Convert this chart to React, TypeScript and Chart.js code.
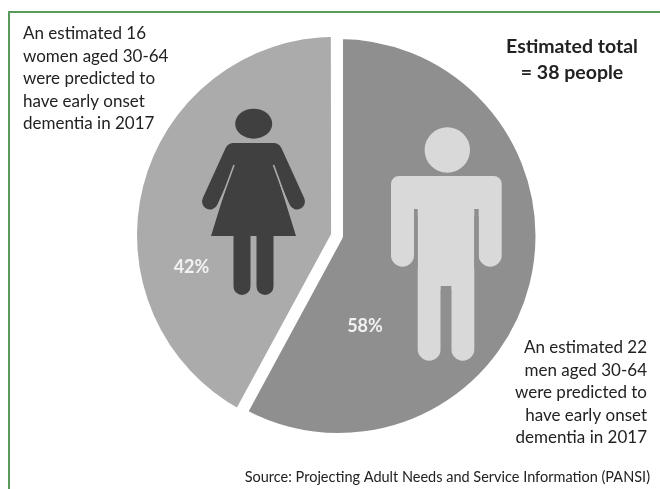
import React, { useEffect, useRef } from "react";
import { Chart, registerables } from "chart.js";

Chart.register(...registerables);

const groups = ["Men", "Women"];
const people = [22, 16];
const sliceColors = ["#8f8f8f", "#ababab"];
const sliceOffsets = [0, 12];
const womenNote = [
  "An estimated 16",
  "women aged 30-64",
  "were predicted to",
  "have early onset",
  "dementia in 2017",
];
const menNote = [
  "An estimated 22",
  "men aged 30-64",
  "were predicted to",
  "have early onset",
  "dementia in 2017",
];
const totalNote = ["Estimated total", "= 38 people"];
const sourceNote = "Source: Projecting Adult Needs and Service Information (PANSI)";

const FONT = "Lato, 'Open Sans', sans-serif";
const INK = "#222222";

function drawWoman(ctx: CanvasRenderingContext2D) {
  ctx.fillStyle = "#404040";
  ctx.strokeStyle = "#404040";
  ctx.beginPath();
  ctx.ellipse(253.7, 123.7, 18.5, 15, 0, 0, Math.PI * 2);
  ctx.fill();

  // Arms
  ctx.lineCap = "round";
  ctx.lineWidth = 16;
  ctx.beginPath();
  ctx.moveTo(233, 151);
  ctx.lineTo(210, 201.5);
  ctx.moveTo(274, 151);
  ctx.lineTo(297, 201.5);
  ctx.stroke();

  // Dress
  ctx.beginPath();
  ctx.moveTo(233, 143);
  ctx.lineTo(274, 143);
  ctx.lineTo(274, 165);
  ctx.lineTo(296, 236);
  ctx.lineTo(211, 236);
  ctx.lineTo(233, 165);
  ctx.closePath();
  ctx.fill();

  // Legs
  ctx.beginPath();
  ctx.roundRect(233.5, 230, 17, 65, [0, 0, 8.5, 8.5]);
  ctx.roundRect(256.5, 230, 17, 65, [0, 0, 8.5, 8.5]);
  ctx.fill();

  // Slits between the arms and the dress
  ctx.strokeStyle = "#ababab";
  ctx.lineWidth = 1.6;
  ctx.lineCap = "butt";
  ctx.beginPath();
  ctx.moveTo(234, 165);
  ctx.lineTo(219, 206);
  ctx.moveTo(273.5, 165);
  ctx.lineTo(288.5, 206);
  ctx.stroke();
}

function drawMan(ctx: CanvasRenderingContext2D) {
  ctx.fillStyle = "#d9d9d9";
  ctx.beginPath();
  ctx.arc(447.3, 150, 22.7, 0, Math.PI * 2);
  ctx.fill();

  ctx.beginPath();
  ctx.roundRect(391, 176, 110.7, 40, [8, 8, 0, 0]);
  ctx.roundRect(391, 200, 23, 66.7, [0, 0, 11.5, 11.5]);
  ctx.roundRect(478.7, 200, 23, 66.7, [0, 0, 11.5, 11.5]);
  ctx.rect(417.7, 200, 56.6, 90);
  ctx.roundRect(417.7, 280, 23, 80.7, [0, 0, 11.5, 11.5]);
  ctx.roundRect(451.3, 280, 23, 80.7, [0, 0, 11.5, 11.5]);
  ctx.fill();

  // Gaps between the arms and the torso, and between the legs
  ctx.fillStyle = "#8f8f8f";
  ctx.fillRect(414, 209, 3.7, 60);
  ctx.fillRect(474.3, 209, 4.4, 60);
  ctx.fillRect(440.7, 286, 10.6, 76);
}

function drawLines(
  ctx: CanvasRenderingContext2D,
  lines: string[],
  x: number,
  firstY: number,
  step: number,
  align: CanvasTextAlign,
  font: string,
) {
  ctx.font = font;
  ctx.textAlign = align;
  ctx.textBaseline = "middle";
  lines.forEach((line, i) => ctx.fillText(line, x, firstY + i * step));
}

const annotations = {
  id: "annotations",
  beforeDraw(chart: Chart) {
    const { ctx } = chart;
    ctx.save();
    ctx.fillStyle = "#ffffff";
    ctx.fillRect(0, 0, 660, 489);
    ctx.fillStyle = "#5a9a5a";
    ctx.fillRect(8, 11, 652, 2);
    ctx.fillRect(8, 11, 2, 478);
    ctx.restore();
  },
  afterDraw(chart: Chart) {
    const { ctx } = chart;
    const total = people.reduce((a, b) => a + b, 0);
    ctx.save();
    drawWoman(ctx);
    drawMan(ctx);

    ctx.fillStyle = INK;
    drawLines(ctx, womenNote, 23, 34, 22.5, "left", `17px ${FONT}`);
    drawLines(ctx, menNote, 647, 348, 22.5, "right", `17px ${FONT}`);
    drawLines(ctx, totalNote, 572, 47, 26, "center", `bold 19.5px ${FONT}`);
    drawLines(ctx, [sourceNote], 650, 477, 0, "right", `14.5px ${FONT}`);

    ctx.fillStyle = "#f2f2f2";
    const bold = `bold 18px ${FONT}`;
    drawLines(ctx, [`${Math.round((people[1] / total) * 100)}%`], 191.5, 267, 0, "center", bold);
    drawLines(ctx, [`${Math.round((people[0] / total) * 100)}%`], 365, 326, 0, "center", bold);
    ctx.restore();
  },
};

export default function App() {
  const canvasRef = useRef<HTMLCanvasElement>(null);

  useEffect(() => {
    const chart = new Chart(canvasRef.current!, {
      type: "pie",
      data: {
        labels: groups,
        datasets: [
          {
            data: people,
            backgroundColor: sliceColors,
            borderColor: "#ffffff",
            borderWidth: 9,
            offset: sliceOffsets,
          },
        ],
      },
      options: {
        responsive: false,
        animation: false,
        layout: { padding: { left: 126.5, right: 109.5, top: 24, bottom: 41 } },
        plugins: {
          legend: { display: false },
          title: { display: false },
          tooltip: { enabled: false },
        },
      },
      plugins: [annotations],
    });
    return () => chart.destroy();
  }, []);

  return (
    <div style={{ position: "fixed", left: 0, top: 0, width: 660, height: 489 }}>
      <canvas ref={canvasRef} width={660} height={489} style={{ display: "block" }} />
    </div>
  );
}
